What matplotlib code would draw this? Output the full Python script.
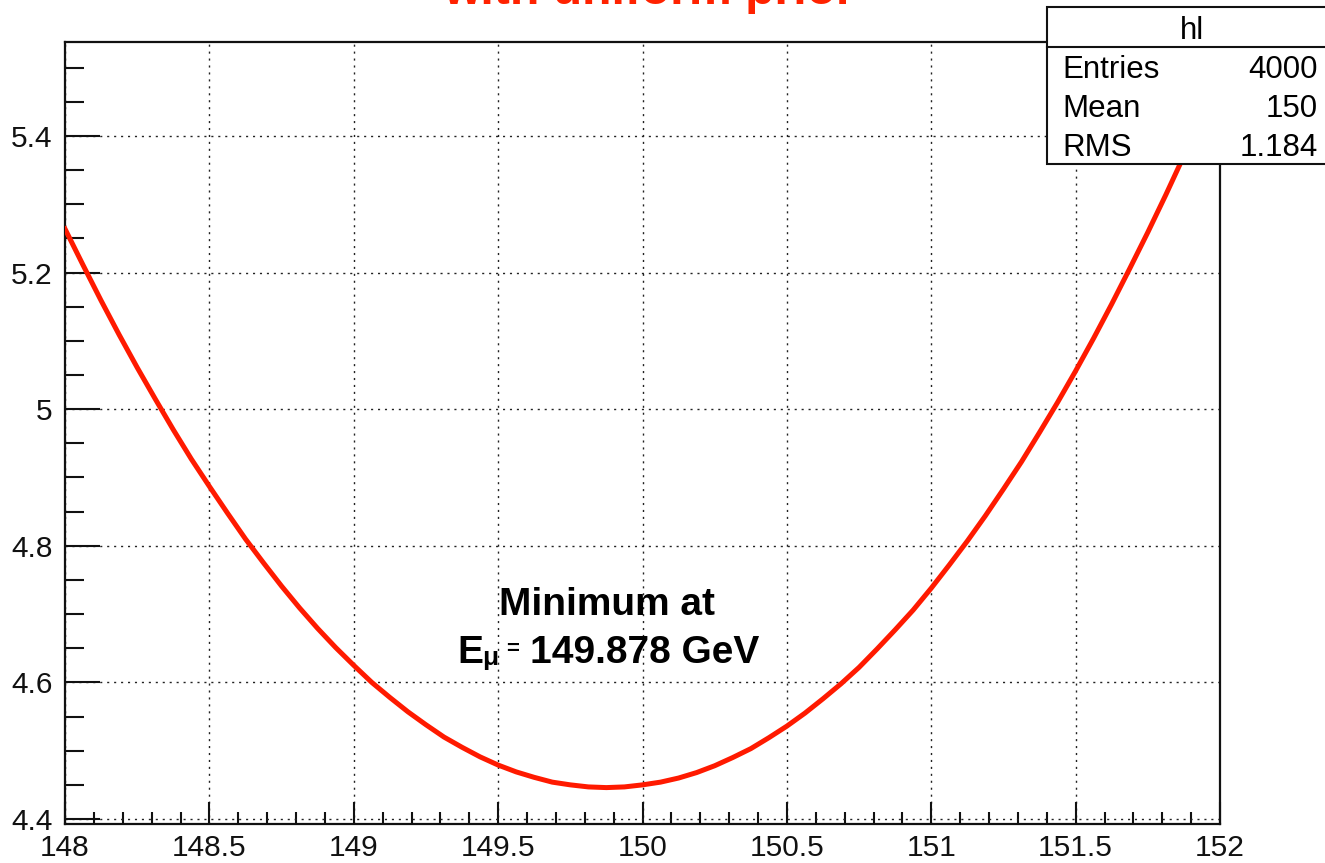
import matplotlib.pyplot as plt
from matplotlib.patches import Rectangle
from matplotlib.ticker import MultipleLocator

# Scan of -log L versus muon energy (GeV), sampled every 0.0625 GeV
energy = [148.0 + 0.0625 * i for i in range(65)]
nll = [5.264, 5.211, 5.159, 5.109, 5.061, 5.015, 4.970, 4.927,
       4.887, 4.848, 4.810, 4.775, 4.741, 4.709, 4.679, 4.651,
       4.625, 4.600, 4.578, 4.557, 4.538, 4.520, 4.505, 4.491,
       4.479, 4.469, 4.461, 4.454, 4.450, 4.447, 4.446, 4.447,
       4.450, 4.454, 4.460, 4.468, 4.478, 4.490, 4.503, 4.519,
       4.536, 4.555, 4.576, 4.598, 4.622, 4.649, 4.677, 4.706,
       4.738, 4.772, 4.807, 4.844, 4.883, 4.923, 4.966, 5.010,
       5.056, 5.104, 5.154, 5.206, 5.259, 5.314, 5.371, 5.430,
       5.491]

x_ticks = [148, 148.5, 149, 149.5, 150, 150.5, 151, 151.5, 152]
x_labels = ['148', '148.5', '149', '149.5', '150', '150.5', '151', '151.5', '152']
y_ticks = [4.4, 4.6, 4.8, 5.0, 5.2, 5.4]
y_labels = ['4.4', '4.6', '4.8', '5', '5.2', '5.4']

stat_names = ['Entries', 'Mean', 'RMS']
stat_values = ['4000', '150', '1.184']
e_min = '149.878'

W, H = 1325, 863
plt.rcParams['font.family'] = ['Liberation Sans', 'DejaVu Sans']

fig = plt.figure(figsize=(W / 100, H / 100), dpi=100)
ax = fig.add_axes([65 / W, 39 / H, 1155 / W, 782 / H])

ax.plot(energy, nll, color='#ff1a00', lw=3.6, solid_joinstyle='round', zorder=3)

ax.set_xlim(148, 152)
ax.set_ylim(4.3927, 5.5376)

ax.set_xticks(x_ticks)
ax.set_xticklabels(x_labels)
ax.set_yticks(y_ticks)
ax.set_yticklabels(y_labels)
ax.xaxis.set_minor_locator(MultipleLocator(0.1))
ax.yaxis.set_minor_locator(MultipleLocator(0.05))

ax.tick_params(axis='both', which='both', direction='in', width=1.5,
               colors='#111111', labelsize=21.5)
ax.tick_params(axis='x', which='major', length=16, pad=7)
ax.tick_params(axis='x', which='minor', length=9)
ax.tick_params(axis='y', which='major', length=25, pad=9)
ax.tick_params(axis='y', which='minor', length=14)

ax.grid(True, which='major', color='#222222', lw=1.0, linestyle=(0, (1.5, 3.5)))
for s in ax.spines.values():
    s.set_linewidth(1.6)
    s.set_color('#111111')

# title, mostly above the canvas
fig.text(649 / W, (H - 3.5) / H, 'with uniform prior', color='#ff2200',
         fontsize=34.7, fontweight='bold', ha='center', va='baseline')

# annotation at the minimum
fig.text(607 / W, (H - 615) / H, 'Minimum at', fontsize=28, fontweight='bold',
         ha='center', va='baseline')
fig.text(457 / W, (H - 663) / H, 'E', fontsize=28, fontweight='bold',
         ha='left', va='baseline')
fig.text(482 / W, (H - 665) / H, 'μ', fontsize=19, fontweight='bold',
         ha='left', va='baseline')
fig.text(513 / W, (H - 649) / H, '=', fontsize=16, fontweight='bold',
         ha='center', va='center')
fig.text(530 / W, (H - 663) / H, e_min + ' GeV', fontsize=28, fontweight='bold',
         ha='left', va='baseline')

# stats box
box = Rectangle((1047 / W, (H - 164) / H), 300 / W, 157 / H, transform=fig.transFigure,
                facecolor='white', edgecolor='#111111', lw=1.5, zorder=10)
fig.patches.append(box)
fig.add_artist(plt.Line2D([1047 / W, 1 + 10 / W], [(H - 47) / H, (H - 47) / H],
                          transform=fig.transFigure, color='#111111', lw=1.5, zorder=11))
fig.text(1192 / W, (H - 31) / H, 'hl', fontsize=22.5, ha='center', va='center', zorder=12)
for i, (name, val) in enumerate(zip(stat_names, stat_values)):
    yc = (H - 70 - 39 * i) / H
    fig.text(1062 / W, yc, name, fontsize=22.5, ha='left', va='center', zorder=12)
    fig.text(1318 / W, yc, val, fontsize=22.5, ha='right', va='center', zorder=12)

fig.savefig('out.png', dpi=100)
